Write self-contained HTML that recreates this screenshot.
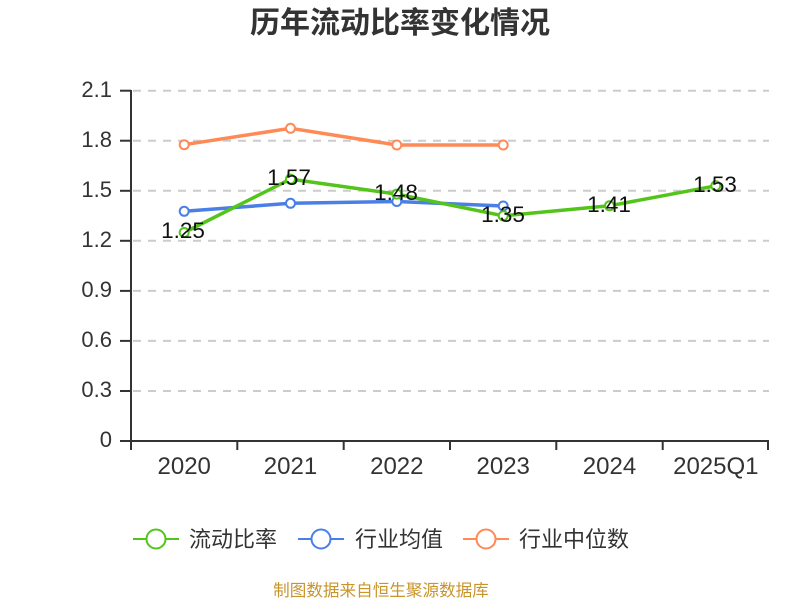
<!DOCTYPE html>
<html><head><meta charset="utf-8"><style>
html,body{margin:0;padding:0;background:#fff;}
svg{display:block;}
text{font-family:"Liberation Sans","Noto Sans CJK SC",sans-serif;}
</style></head><body>
<svg width="800" height="600" viewBox="0 0 800 600" xmlns="http://www.w3.org/2000/svg">
<text x="400" y="33" text-anchor="middle" font-size="30" font-weight="bold" fill="#333">历年流动比率变化情况</text>
<g stroke="#ccc" stroke-width="2" stroke-dasharray="8,7">
<line x1="133" y1="90.7" x2="769" y2="90.7"/>
<line x1="133" y1="140.7" x2="769" y2="140.7"/>
<line x1="133" y1="190.8" x2="769" y2="190.8"/>
<line x1="133" y1="240.8" x2="769" y2="240.8"/>
<line x1="133" y1="290.9" x2="769" y2="290.9"/>
<line x1="133" y1="340.9" x2="769" y2="340.9"/>
<line x1="133" y1="391" x2="769" y2="391"/>
</g>
<g stroke="#333" stroke-width="2">
<line x1="131" y1="90" x2="131" y2="442"/>
<line x1="130" y1="441" x2="769" y2="441"/>
<line x1="120" y1="90.7" x2="131" y2="90.7"/>
<line x1="120" y1="140.7" x2="131" y2="140.7"/>
<line x1="120" y1="190.8" x2="131" y2="190.8"/>
<line x1="120" y1="240.8" x2="131" y2="240.8"/>
<line x1="120" y1="290.9" x2="131" y2="290.9"/>
<line x1="120" y1="340.9" x2="131" y2="340.9"/>
<line x1="120" y1="391" x2="131" y2="391"/>
<line x1="120" y1="441" x2="131" y2="441"/>
<line x1="131" y1="441" x2="131" y2="450"/>
<line x1="237.3" y1="441" x2="237.3" y2="450"/>
<line x1="343.7" y1="441" x2="343.7" y2="450"/>
<line x1="450" y1="441" x2="450" y2="450"/>
<line x1="556.3" y1="441" x2="556.3" y2="450"/>
<line x1="662.7" y1="441" x2="662.7" y2="450"/>
<line x1="768" y1="441" x2="768" y2="450"/>
</g>
<g font-size="22" fill="#333" text-anchor="end">
<text x="112" y="97">2.1</text>
<text x="112" y="147">1.8</text>
<text x="112" y="197">1.5</text>
<text x="112" y="247">1.2</text>
<text x="112" y="297">0.9</text>
<text x="112" y="347">0.6</text>
<text x="112" y="397">0.3</text>
<text x="112" y="447">0</text>
</g>
<g font-size="24" fill="#333" text-anchor="middle">
<text x="184.2" y="474">2020</text>
<text x="290.5" y="474">2021</text>
<text x="396.8" y="474">2022</text>
<text x="503.2" y="474">2023</text>
<text x="609.5" y="474">2024</text>
<text x="715.8" y="474">2025Q1</text>
</g>
<g fill="none" stroke-width="3.5" stroke-linejoin="round">
<polyline stroke="#ff8a56" points="184.2,144.7 290.5,128.3 396.8,145 503.2,145"/>
<polyline stroke="#4a7fe6" points="184.2,211.3 290.5,203.3 396.8,201.5 503.2,206"/>
<polyline stroke="#52c41a" points="184.2,232.5 290.5,179.1 396.8,194.1 503.2,215.8 609.5,205.8 715.8,185.8"/>
</g>
<g fill="#fff" stroke-width="2">
<g stroke="#ff8a56">
<circle cx="184.2" cy="144.7" r="4.5"/><circle cx="290.5" cy="128.3" r="4.5"/><circle cx="396.8" cy="145" r="4.5"/><circle cx="503.2" cy="145" r="4.5"/>
</g>
<g stroke="#4a7fe6">
<circle cx="184.2" cy="211.3" r="4.5"/><circle cx="290.5" cy="203.3" r="4.5"/><circle cx="396.8" cy="201.5" r="4.5"/><circle cx="503.2" cy="206" r="4.5"/>
</g>
<g stroke="#52c41a">
<circle cx="184.2" cy="232.5" r="4.5"/><circle cx="290.5" cy="179.1" r="4.5"/><circle cx="396.8" cy="194.1" r="4.5"/><circle cx="503.2" cy="215.8" r="4.5"/><circle cx="609.5" cy="205.8" r="4.5"/><circle cx="715.8" cy="185.8" r="4.5"/>
</g>
</g>
<g font-size="22.5" fill="#111" text-anchor="middle">
<text x="183" y="238">1.25</text>
<text x="289" y="185">1.57</text>
<text x="396" y="200">1.48</text>
<text x="503" y="222">1.35</text>
<text x="609" y="212">1.41</text>
<text x="715" y="192">1.53</text>
</g>
<g stroke-width="2" fill="#fff">
<line x1="133" y1="539" x2="179" y2="539" stroke="#52c41a"/>
<circle cx="156" cy="539" r="9.5" stroke="#52c41a"/>
<line x1="298" y1="539" x2="344" y2="539" stroke="#4a7fe6"/>
<circle cx="321" cy="539" r="9.5" stroke="#4a7fe6"/>
<line x1="463" y1="539" x2="509" y2="539" stroke="#ff8a56"/>
<circle cx="486" cy="539" r="9.5" stroke="#ff8a56"/>
</g>
<g font-size="22" fill="#333">
<text x="189" y="547">流动比率</text>
<text x="355" y="547">行业均值</text>
<text x="519" y="547">行业中位数</text>
</g>
<text x="381" y="596" text-anchor="middle" font-size="16.6" fill="#c8952c">制图数据来自恒生聚源数据库</text>
</svg>
</body></html>
